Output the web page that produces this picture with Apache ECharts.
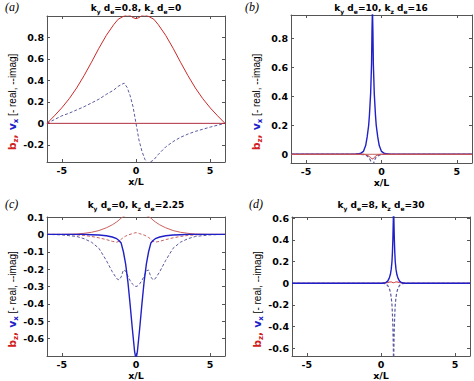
<!DOCTYPE html>
<html><head><meta charset="utf-8">
<script src="https://cdn.jsdelivr.net/npm/echarts@6/dist/echarts.min.js"></script>
<style>html,body{margin:0;padding:0;background:#fff}#c{width:474px;height:381px}</style>
</head><body><div id="c"></div>
<script>
// ---------- tick labels ----------
const xTicks = [-5, 0, 5];
const aYTicks = [-0.2, 0, 0.2, 0.4, 0.6, 0.8];
const bYTicks = [0, 0.2, 0.4, 0.6, 0.8];
const cYTicks = [-0.6, -0.5, -0.4, -0.3, -0.2, -0.1, 0, 0.1];
const dYTicks = [-0.6, -0.4, -0.2, 0, 0.2, 0.4, 0.6];
const panelLabels = ['(a)', '(b)', '(c)', '(d)'];
const kyVals = ['0.8', '10', '0', '8'];
const kzVals = ['0', '16', '2.25', '30'];

// ---------- flat zero line ----------
const zeroX = [-6, 6];
const zeroY = [0, 0];

// ---------- panel (a) ----------
const aX      = [-6,-5.5,-5,-4.5,-4,-3.5,-3,-2.5,-2,-1.5,-1.2,-0.8,-0.6,-0.4,-0.2,0,0.2,0.4,0.6,0.8,1.2,1.5,2,2.5,3,3.5,4,4.5,5,5.5,6];
const aBzReal = [0,0.07,0.145,0.23,0.33,0.445,0.57,0.70,0.82,0.92,0.97,1.0,1.01,1.005,0.985,0.975,0.985,1.005,1.01,1.0,0.97,0.92,0.82,0.70,0.57,0.445,0.33,0.23,0.145,0.07,0];
const aVxImag = [0,0.035,0.07,0.095,0.125,0.155,0.19,0.225,0.27,0.31,0.345,0.375,0.335,0.26,0.155,0,-0.155,-0.26,-0.335,-0.375,-0.34,-0.29,-0.22,-0.17,-0.13,-0.1,-0.075,-0.055,-0.035,-0.017,0];

// ---------- panel (b) ----------
const bX      = [-6,-1.8,-1.4,-1.2,-1.05,-0.95,-0.85,-0.8,-0.72,-0.66,-0.63,-0.6,-0.57,-0.54,-0.48,-0.4,-0.35,-0.25,-0.15,0,0.2,0.6,6];
const bVxReal = [0,0,0.005,0.02,0.06,0.12,0.2,0.27,0.42,0.62,0.85,1.0,0.85,0.62,0.42,0.27,0.2,0.12,0.06,0.02,0.005,0,0];
const bVxImag = [0,0,0,-0.002,-0.006,-0.012,-0.02,-0.028,-0.045,-0.07,-0.09,-0.1,-0.09,-0.07,-0.045,-0.028,-0.02,-0.012,-0.006,-0.002,0,0,0];
const bBzReal = [0,0,0,0,-0.002,-0.006,-0.012,-0.016,-0.022,-0.028,-0.032,-0.035,-0.032,-0.028,-0.022,-0.014,-0.01,-0.004,-0.001,0,0,0,0];

// ---------- panel (c) ----------
const cX      = [-6,-5,-4,-3.5,-3,-2.5,-2,-1.6,-1.3,-1.15,-1,-0.85,-0.7,-0.55,-0.4,-0.25,-0.1,0,0.1,0.25,0.4,0.55,0.7,0.85,1,1.15,1.3,1.6,2,2.5,3,3.5,4,5,6];
const cVxReal = [0,0,0,0,-0.002,-0.004,-0.008,-0.015,-0.025,-0.035,-0.05,-0.1,-0.17,-0.27,-0.4,-0.54,-0.67,-0.72,-0.67,-0.54,-0.4,-0.27,-0.17,-0.1,-0.05,-0.035,-0.025,-0.015,-0.008,-0.004,-0.002,0,0,0,0];
const cVxImag = [0,-0.003,-0.012,-0.025,-0.045,-0.08,-0.15,-0.215,-0.255,-0.262,-0.245,-0.205,-0.21,-0.24,-0.265,-0.285,-0.297,-0.3,-0.297,-0.285,-0.265,-0.24,-0.21,-0.205,-0.245,-0.262,-0.255,-0.215,-0.15,-0.08,-0.045,-0.025,-0.012,-0.003,0];
const cBzReal = [0,0,0.002,0.006,0.012,0.022,0.038,0.055,0.072,0.082,0.094,0.103,0.108,0.112,0.115,0.117,0.118,0.118,0.118,0.117,0.115,0.112,0.108,0.103,0.094,0.082,0.072,0.055,0.038,0.022,0.012,0.006,0.002,0,0];
const cBzImag = [0,0,-0.003,-0.006,-0.012,-0.02,-0.03,-0.04,-0.045,-0.04,-0.028,-0.018,-0.01,-0.004,0,0.004,0.008,0.01,0.008,0.004,0,-0.004,-0.01,-0.018,-0.028,-0.04,-0.045,-0.04,-0.03,-0.02,-0.012,-0.006,-0.003,0,0];

// ---------- panel (d) ----------
const dX      = [-6,0.05,0.3,0.45,0.55,0.63,0.69,0.74,0.77,0.8,0.83,0.85,0.87,0.9,0.93,0.96,1.01,1.07,1.15,1.25,1.4,1.65,6];
const dVxReal = [0,0,0.005,0.02,0.045,0.08,0.13,0.2,0.28,0.4,0.58,0.8,0.58,0.4,0.28,0.2,0.13,0.08,0.045,0.02,0.005,0,0];
const dVxImag = [0,0,-0.005,-0.02,-0.045,-0.08,-0.13,-0.2,-0.28,-0.4,-0.58,-0.8,-0.58,-0.4,-0.28,-0.2,-0.13,-0.08,-0.045,-0.02,-0.005,0,0];
const dBzReal = [0,0,0.003,0.006,0.01,0.012,0.012,0.01,0.008,0.006,0.005,0.005,0.005,0.006,0.008,0.01,0.012,0.012,0.01,0.006,0.003,0,0];

// ---------- styles / layout ----------
const RED = '#cc2a2a', RED_D = '#c86060', BLUE = '#2020c8', BLUE_D = '#5a5aa0', AX = '#555';
const FONT = 'DejaVu Sans';
const grids = [
  {left: 47, top: 16, width: 178, height: 146},
  {left: 291, top: 15, width: 181, height: 148},
  {left: 47, top: 217, width: 178, height: 145},
  {left: 292, top: 217, width: 178, height: 145}
];
const yRanges = [[-0.36, 1.0], [-0.06, 0.96], [-0.7, 0.1], [-0.67, 0.61]];
const yTicks = [aYTicks, bYTicks, cYTicks, dYTicks];
const titleCenters = [[136, 2], [381, 2], [136, 199], [381, 199]];
const labelPos = [[5, 1], [245, 1], [5, 198], [249, 198]];

const pairs = (xs, ys) => xs.map((x, i) => [x, ys[i]]);
const fmt = v => Math.abs(v) < 1e-9 ? '0' : (+v).toFixed(1);

const xAxes = [], yAxes = [], series = [], titles = [];
grids.forEach((g, i) => {
  const tick = {inside: true, length: 3, customValues: xTicks, lineStyle: {color: AX}};
  xAxes.push({gridIndex: i, type: 'value', min: -6, max: 6, position: 'bottom',
    axisLine: {show: true, onZero: false, lineStyle: {color: AX, width: 1}},
    axisTick: tick, splitLine: {show: false},
    axisLabel: {customValues: xTicks, formatter: v => String(v), color: '#000', fontWeight: 'bold', fontSize: 9.5, fontFamily: FONT, margin: 3},
    name: 'x/L', nameLocation: 'middle', nameGap: 14,
    nameTextStyle: {color: '#000', fontWeight: 'bold', fontSize: 9.5, fontFamily: FONT}});
  xAxes.push({gridIndex: i, type: 'value', min: -6, max: 6, position: 'top',
    axisLine: {show: true, onZero: false, lineStyle: {color: AX, width: 1}},
    axisTick: tick, splitLine: {show: false}, axisLabel: {show: false}});
  const ytick = {inside: true, length: 3, customValues: yTicks[i], lineStyle: {color: AX}};
  yAxes.push({gridIndex: i, type: 'value', min: yRanges[i][0], max: yRanges[i][1], position: 'left',
    axisLine: {show: true, onZero: false, lineStyle: {color: AX, width: 1}},
    axisTick: ytick, splitLine: {show: false},
    axisLabel: {customValues: yTicks[i], formatter: fmt, color: '#000', fontWeight: 'bold', fontSize: 9.5, fontFamily: FONT, margin: 3},
    name: '{r|b}{rs|z}{r|, }{b|v}{bs|x}{k| [- real, --imag]}',
    nameLocation: 'middle', nameRotate: 90, nameGap: 28,
    nameTextStyle: {padding: [0, 26, 0, 0], rich: {
      r:  {color: '#d02020', fontSize: 11, fontWeight: 'bold', fontFamily: FONT, lineHeight: 13},
      rs: {color: '#d02020', fontSize: 7, fontWeight: 'bold', fontFamily: FONT, lineHeight: 5, verticalAlign: 'bottom'},
      b:  {color: '#2020c8', fontSize: 11, fontWeight: 'bold', fontFamily: FONT, lineHeight: 13},
      bs: {color: '#2020c8', fontSize: 7, fontWeight: 'bold', fontFamily: FONT, lineHeight: 5, verticalAlign: 'bottom'},
      k:  {color: '#000', fontSize: 10, fontFamily: 'Liberation Sans', lineHeight: 13}
    }}});
  yAxes.push({gridIndex: i, type: 'value', min: yRanges[i][0], max: yRanges[i][1], position: 'right',
    axisLine: {show: true, onZero: false, lineStyle: {color: AX, width: 1}},
    axisTick: ytick, splitLine: {show: false}, axisLabel: {show: false}});

  titles.push({text: '{m|k}{s|y}{m| d}{s|e}{m|=' + kyVals[i] + ', k}{s|z}{m| d}{s|e}{m|=' + kzVals[i] + '}',
    left: titleCenters[i][0], top: titleCenters[i][1], textAlign: 'center', padding: 0,
    textStyle: {rich: {
      m: {color: '#000', fontSize: 9, fontWeight: 'bold', fontFamily: FONT, lineHeight: 12},
      s: {color: '#000', fontSize: 6, fontWeight: 'bold', fontFamily: FONT, lineHeight: 5, verticalAlign: 'bottom'}
    }}});
  titles.push({text: panelLabels[i], left: labelPos[i][0], top: labelPos[i][1], padding: 0,
    textStyle: {color: '#000', fontSize: 12, fontStyle: 'italic', fontWeight: 'normal', fontFamily: 'Liberation Serif'}});
});

function line(i, xs, ys, color, dashed, width) {
  series.push({type: 'line', xAxisIndex: 2 * i, yAxisIndex: 2 * i, data: pairs(xs, ys),
    showSymbol: false, symbol: 'none', clip: true, animation: false, silent: true,
    lineStyle: {color: color, width: width || 1, type: dashed ? [3, 2] : 'solid'}});
}
// (a)
line(0, aX, aVxImag, BLUE_D, true);
line(0, aX, aBzReal, RED, false);
line(0, zeroX, zeroY, '#b03040', false);
// (b)
line(1, bX, bVxImag, BLUE_D, true, 1.2);
line(1, bX, bVxReal, BLUE, false, 1.4);
line(1, bX, bBzReal, RED, false);
line(1, zeroX, zeroY, RED_D, false);
// (c)
line(2, cX, cBzReal, RED_D, false);
line(2, cX, cBzImag, RED_D, true);
line(2, cX, cVxImag, BLUE_D, true);
line(2, cX, cVxReal, BLUE, false, 1.4);
// (d)
line(3, dX, dBzReal, RED, false);
line(3, dX, dVxImag, BLUE_D, true, 1.2);
line(3, dX, dVxReal, BLUE, false, 1.4);

const chart = echarts.init(document.getElementById('c'), null, {renderer: 'svg'});
chart.setOption({
  animation: false,
  backgroundColor: '#fff',
  title: titles,
  grid: grids.map(g => Object.assign({show: false, containLabel: false}, g)),
  xAxis: xAxes, yAxis: yAxes, series: series
});
</script></body></html>
